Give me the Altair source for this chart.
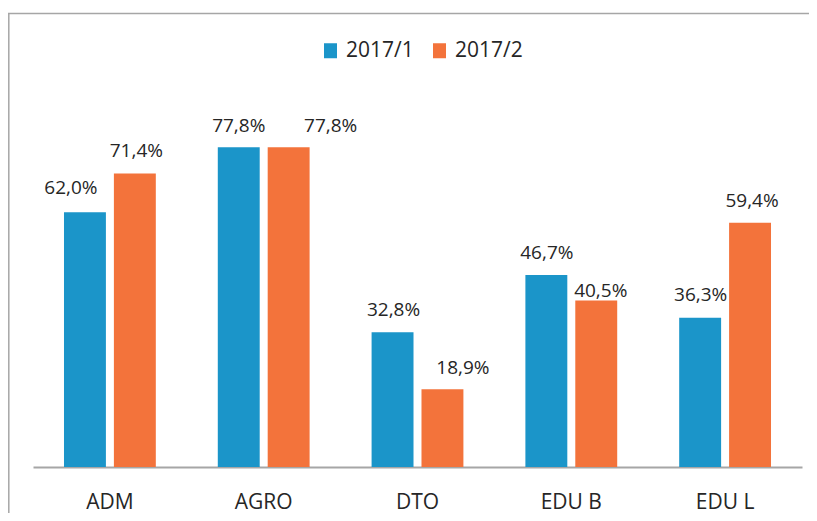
import altair as alt
import pandas as pd

categories = ["ADM", "AGRO", "DTO", "EDU B", "EDU L"]
series = ["2017/1", "2017/2"]
values_2017_1 = [62.0, 77.8, 32.8, 46.7, 36.3]
values_2017_2 = [71.4, 77.8, 18.9, 40.5, 59.4]
colors = ["#1B95C9", "#F3733B"]

# label nudges (px) as placed in the original chart, per category: (2017/1, 2017/2)
label_dx = [(-14, 1.5), (0, 42), (1, 20.5), (0.5, 4.5), (0.5, 2)]
label_dy = [(-18, -17), (-15, -15), (-16, -15), (-16, -4), (-17, -16)]

rows = []
for i, (c, v1, v2) in enumerate(zip(categories, values_2017_1, values_2017_2)):
    rows.append({"cat": c, "series": series[0], "value": v1, "idx": i * 2})
    rows.append({"cat": c, "series": series[1], "value": v2, "idx": i * 2 + 1})
df = pd.DataFrame(rows)

FONT = "Open Sans"
TXT = "#262626"

base = alt.Chart(df).transform_calculate(
    label="replace(format(datum.value, '.1f'), '.', ',') + '%'"
).encode(
    x=alt.X(
        "cat:N",
        sort=categories,
        scale=alt.Scale(paddingInner=0.403, paddingOuter=0.2015),
        axis=alt.Axis(
            title=None, labelAngle=0, ticks=False, domain=True,
            domainColor="#a6a6a6", domainWidth=2, labelFontSize=21,
            labelPadding=41, labelBaseline="alphabetic", labelColor=TXT,
            labelFont=FONT,
        ),
    ),
    xOffset=alt.XOffset("series:N", sort=series,
                        scale=alt.Scale(paddingInner=0.16, paddingOuter=0)),
    y=alt.Y("value:Q", scale=alt.Scale(domain=[0, 100]), axis=None),
)

bars = base.mark_bar().encode(
    color=alt.Color(
        "series:N",
        scale=alt.Scale(domain=series, range=colors),
        legend=alt.Legend(
            orient="none", legendX=287, legendY=-16, direction="horizontal",
            title=None, symbolType="M-0.867,-1H0.867V1H-0.867Z", symbolSize=225,
            labelFontSize=21, labelFont=FONT, labelColor=TXT, labelOffset=5,
            columnPadding=15, symbolStrokeWidth=0, padding=0,
        ),
    )
)

label_layers = []
for i in range(len(categories)):
    for j in range(2):
        label_layers.append(
            base.transform_filter(alt.datum.idx == i * 2 + j).mark_text(
                dx=label_dx[i][j], dy=label_dy[i][j], baseline="alphabetic",
                fontSize=19, font=FONT, color=TXT,
            ).encode(text="label:N")
        )

frame_df = pd.DataFrame({"a": [0]})
left_line = alt.Chart(frame_df).mark_rule(color="#a6a6a6", strokeWidth=1.5).encode(
    x=alt.value(-24.2), y=alt.value(-42.5), y2=alt.value(470)
)
top_line = alt.Chart(frame_df).mark_rule(color="#a6a6a6", strokeWidth=1.5).encode(
    x=alt.value(-25), x2=alt.value(800), y=alt.value(-42.5)
)

chart = alt.layer(bars, *label_layers, left_line, top_line).properties(
    width=769, height=411,
    autosize=alt.AutoSizeParams(type="none"),
    padding={"left": 25, "top": 48, "right": 7, "bottom": 46},
    background="white",
).configure_view(stroke=None)

chart.save("out.html", embed_options={"renderer": "svg", "actions": False})
